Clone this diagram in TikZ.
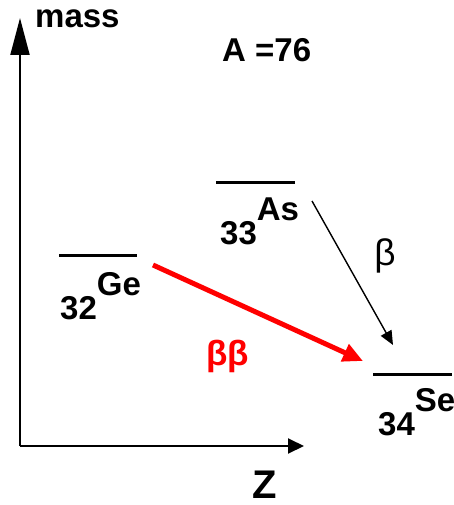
\documentclass[tikz,border=0pt]{standalone}
\usepackage{fontspec}
\setmainfont{Liberation Sans}
\usetikzlibrary{arrows.meta, positioning}
\definecolor{bbred}{RGB}{255, 0, 0}

\begin{document}
\begin{tikzpicture}[x=1pt, y=-1pt]
    % Styles
    \tikzstyle{level} = [line width=3pt]
    \tikzstyle{axis} = [line width=2pt]
    \tikzstyle{lbl} = [inner sep=0pt, anchor=base west, font=\fontsize{33}{38}\selectfont\bfseries]
    \tikzstyle{decay} = [line width=1.4pt, -{Triangle[length=14pt, width=12pt]}]
    \tikzstyle{dbldecay} = [line width=5pt, bbred, -{Triangle[length=20pt, width=18pt]}]
    \newcommand{\iso}[2]{#1\raisebox{24pt}{#2}}

    \useasboundingbox (0,0) rectangle (454,505);

    % Axes
    \coordinate (origin) at (20,446);
    \coordinate (ytip) at (20,18);
    \coordinate (xtip) at (304,446);
    \draw [axis, -{Triangle[length=37pt, width=19pt]}] (origin) -- (ytip);
    \draw [axis, -{Triangle[length=16pt, width=15pt]}] (origin) -- (xtip);
    \node [lbl] (mass) at (35,28) {mass};
    \node [lbl] (anum) at (222,62) {A =76};
    \node [lbl, font=\fontsize{40}{46}\selectfont\bfseries] (zlab) at (252,498) {Z};

    % Levels
    \coordinate (ge-l) at (59,255);
    \coordinate (ge-r) at (137,255);
    \coordinate (as-l) at (216,182);
    \coordinate (as-r) at (295,182);
    \coordinate (se-l) at (373,374);
    \coordinate (se-r) at (452,374);
    \draw [level] (ge-l) -- (ge-r);
    \draw [level] (as-l) -- (as-r);
    \draw [level] (se-l) -- (se-r);
    \node [lbl] (ge) at (60,319) {\iso{32}{Ge}};
    \node [lbl] (as) at (220,244) {\iso{33}{As}};
    \node [lbl] (se) at (378,435) {\iso{34}{Se}};

    % Decays
    \coordinate (b-from) at (312,201);
    \coordinate (b-to) at (393,345);
    \coordinate (bb-from) at (153,265);
    \coordinate (bb-to) at (363,361);
    \draw [decay] (b-from) -- (b-to);
    \draw [dbldecay] (bb-from) -- (bb-to);
    \node [font=\fontsize{37}{40}\selectfont] (blab) at (385,256) {β};
    \node [font=\fontsize{35}{40}\selectfont\bfseries, text=bbred] (bblab) at (228,356) {ββ};
\end{tikzpicture}
\end{document}
